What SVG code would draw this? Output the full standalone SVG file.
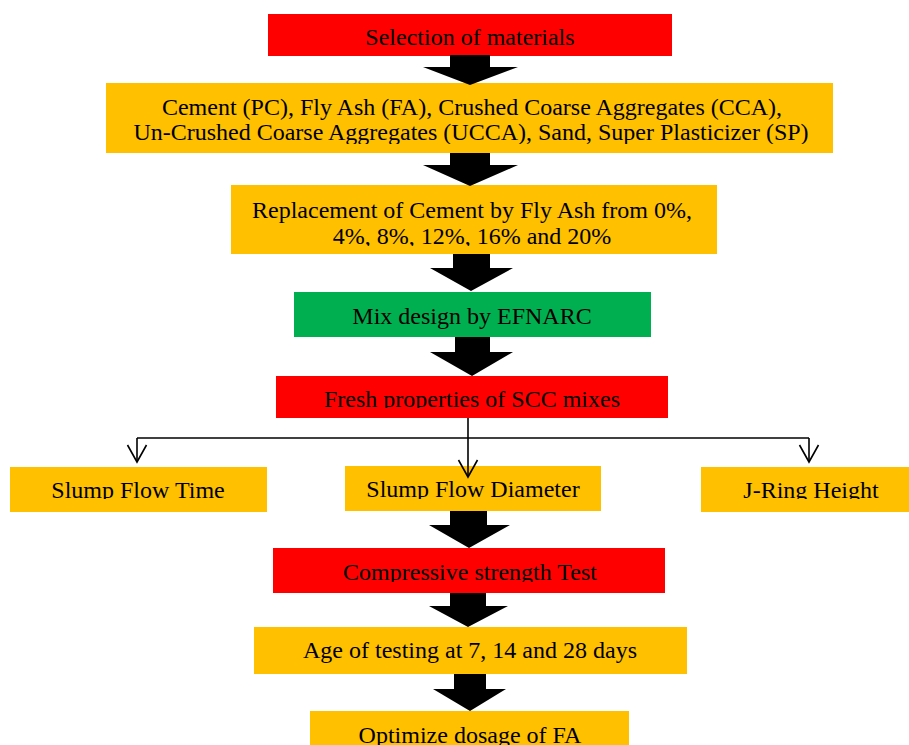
<svg xmlns="http://www.w3.org/2000/svg" width="909" height="745" viewBox="0 0 909 745">
<style>
.t{font-family:"Liberation Serif","Times New Roman",serif;font-size:24px;fill:#000;text-anchor:middle}
.red{fill:#FF0000}.yel{fill:#FFC000}.grn{fill:#00B050}
.blk{fill:#000}
.con{fill:none;stroke:#000;stroke-width:1.6}
</style>
<defs>
<marker id="open" markerUnits="userSpaceOnUse" markerWidth="24" markerHeight="24" viewBox="-20 -12 24 24" refX="0" refY="0" orient="auto">
<path d="M-17,-9.5 L0,0 L-17,9.5" fill="none" stroke="#000" stroke-width="1.6"/>
</marker>
<clipPath id="c2"><rect x="106" y="83" width="727" height="61"/></clipPath>
<clipPath id="c3"><rect x="231" y="185" width="486" height="61"/></clipPath>
<clipPath id="c5"><rect x="276" y="376" width="392" height="32"/></clipPath>
<clipPath id="cr"><rect x="0" y="466" width="909" height="33"/></clipPath>
<clipPath id="c6"><rect x="273" y="548" width="392" height="34"/></clipPath>
</defs>
<rect width="909" height="745" fill="#fff"/>
<g id="n1"><rect class="red" x="268" y="14" width="404" height="42"/><text class="t" x="470" y="45">Selection of materials</text></g>
<g id="n2"><rect class="yel" x="106" y="83" width="727" height="70"/><g clip-path="url(#c2)"><text class="t" x="472" y="115">Cement (PC), Fly Ash (FA), Crushed Coarse Aggregates (CCA),</text><text class="t" x="471" y="140">Un-Crushed Coarse Aggregates (UCCA), Sand, Super Plasticizer (SP)</text></g></g>
<g id="n3"><rect class="yel" x="231" y="185" width="486" height="69"/><g clip-path="url(#c3)"><text class="t" x="472" y="218">Replacement of Cement by Fly Ash from 0%,</text><text class="t" x="472" y="244">4%, 8%, 12%, 16% and 20%</text></g></g>
<g id="n4"><rect class="grn" x="294" y="292" width="357" height="45"/><text class="t" x="472" y="324">Mix design by EFNARC</text></g>
<g id="n5"><rect class="red" x="276" y="376" width="392" height="42"/><text class="t" x="472" y="407" clip-path="url(#c5)">Fresh properties of SCC mixes</text></g>
<g id="n6"><rect class="yel" x="10" y="467" width="257" height="45"/><text class="t" x="138" y="498" clip-path="url(#cr)">Slump Flow Time</text></g>
<g id="n7"><rect class="yel" x="345" y="466" width="256" height="45"/><text class="t" x="473" y="497" clip-path="url(#cr)">Slump Flow Diameter</text></g>
<g id="n8"><rect class="yel" x="701" y="467" width="208" height="45"/><text class="t" x="811" y="498" clip-path="url(#cr)">J-Ring Height</text></g>
<g id="n9"><rect class="red" x="273" y="548" width="392" height="45"/><text class="t" x="470" y="580" clip-path="url(#c6)">Compressive strength Test</text></g>
<g id="n10"><rect class="yel" x="254" y="627" width="433" height="47"/><text class="t" x="470" y="658">Age of testing at 7, 14 and 28 days</text></g>
<g id="n11"><rect class="yel" x="310" y="711" width="319" height="34"/><text class="t" x="470" y="743">Optimize dosage of FA</text></g>
<g id="connectors">
<polygon class="blk" points="450,55 490,55 490,67 518,67 470,85 423,67 450,67"/>
<polygon class="blk" points="450,153 490,153 490,165 518,165 470,186 423,165 450,165"/>
<polygon class="blk" points="453,254 490,254 490,268 513,268 471,291 430,268 453,268"/>
<polygon class="blk" points="455,337 490,337 490,352 513,352 472,376 430,352 455,352"/>
<polygon class="blk" points="450,511 487,511 487,525 510,525 469,548 429,525 450,525"/>
<polygon class="blk" points="450,593 486,593 486,606 508,606 468,627 429,606 450,606"/>
<polygon class="blk" points="454,674 486,674 486,689 506,689 470,711 433,689 454,689"/>
<path class="con" d="M468,418 V438"/>
<path class="con" d="M137,438 H809"/>
<path class="con" d="M137,438 V462" marker-end="url(#open)"/>
<path class="con" d="M468,438 V477" marker-end="url(#open)"/>
<path class="con" d="M809,438 V462" marker-end="url(#open)"/>
</g>
</svg>
